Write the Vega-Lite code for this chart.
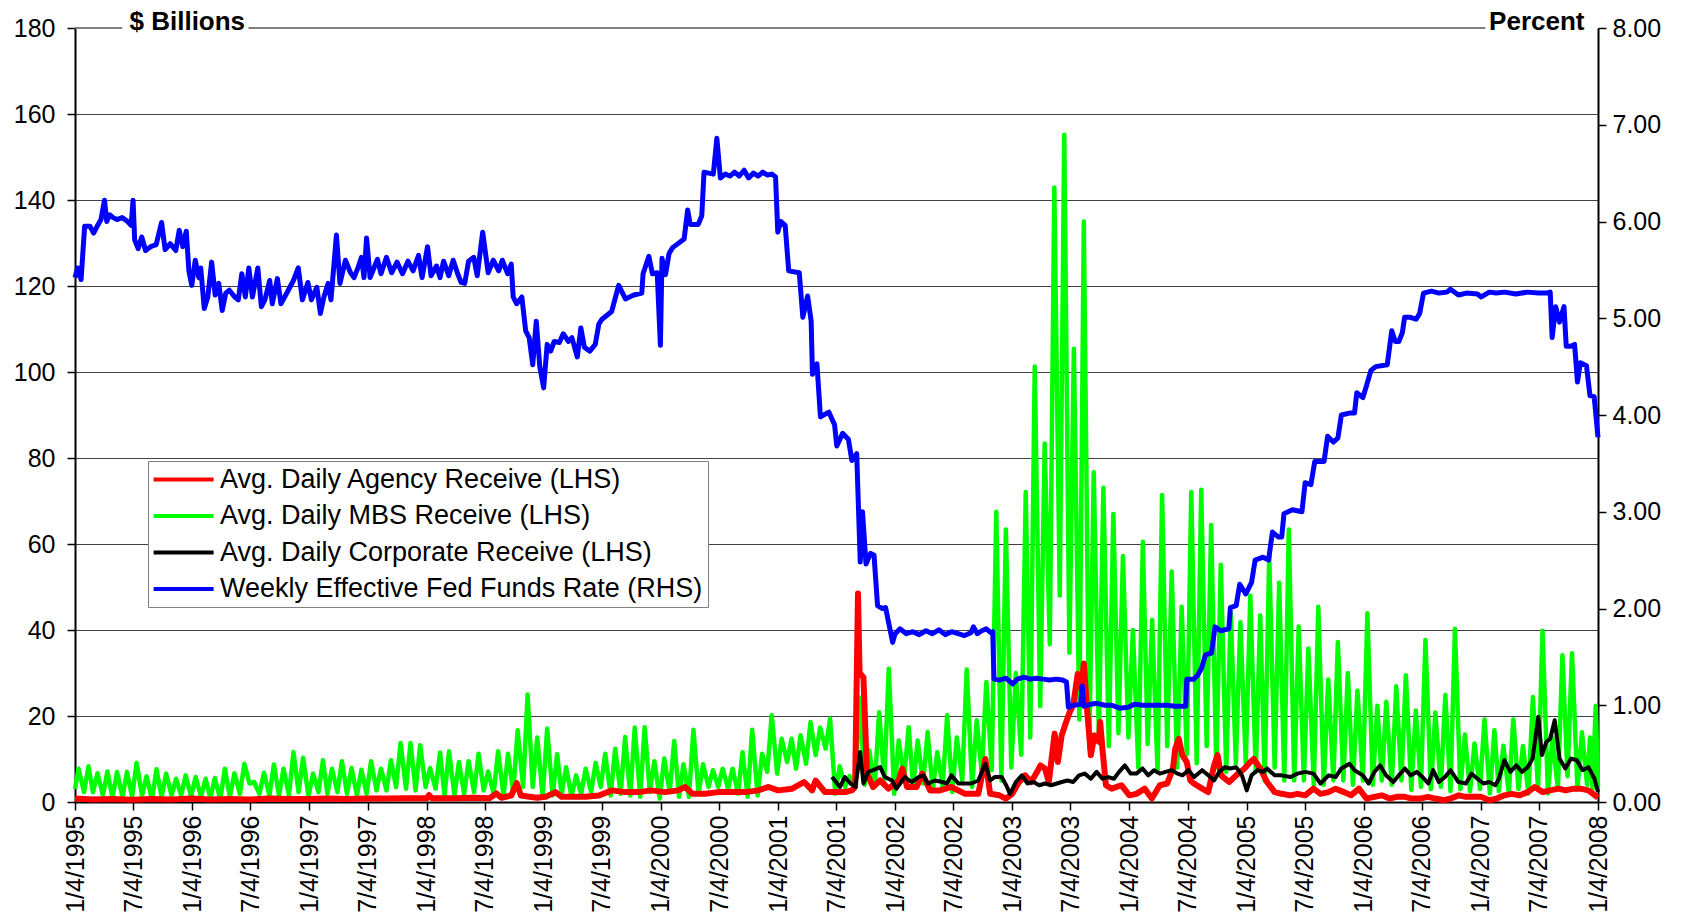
{
"$schema": "https://vega.github.io/schema/vega-lite/v6.json",
"width": 1523,
"height": 774,
"autosize": "none",
"padding": {"left": 75, "top": 28, "right": 83, "bottom": 112},
"config": {"view": {"stroke": null}, "font": "Liberation Sans", "background": "white"},
"datasets": {
"mbs": [
{"d":"1995-01-04","v":3.0},{"d":"1995-01-15","v":7.75},{"d":"1995-02-01","v":2.3},{"d":"1995-02-15","v":8.3},{"d":"1995-03-01","v":2.3},{"d":"1995-03-15","v":6.7},{"d":"1995-04-01","v":1.5},{"d":"1995-04-15","v":7.1},{"d":"1995-05-01","v":1.0},{"d":"1995-05-15","v":7.0},{"d":"1995-06-01","v":1.2},{"d":"1995-06-15","v":7.0},{"d":"1995-07-01","v":1.2},{"d":"1995-07-15","v":9.1},{"d":"1995-08-01","v":1.5},{"d":"1995-08-15","v":6.0},{"d":"1995-09-01","v":0.5},{"d":"1995-09-15","v":7.6},{"d":"1995-10-01","v":1.2},{"d":"1995-10-15","v":6.6},{"d":"1995-11-01","v":1.5},{"d":"1995-11-15","v":5.4},{"d":"1995-12-01","v":1.5},{"d":"1995-12-15","v":6.2},
{"d":"1996-01-01","v":1.3},{"d":"1996-01-15","v":5.8},{"d":"1996-02-01","v":1.2},{"d":"1996-02-15","v":5.4},{"d":"1996-03-01","v":0.8},{"d":"1996-03-15","v":5.6},{"d":"1996-04-01","v":0.5},{"d":"1996-04-15","v":7.75},{"d":"1996-05-01","v":1.2},{"d":"1996-05-15","v":6.7},{"d":"1996-06-01","v":1.9},{"d":"1996-06-15","v":8.9},{"d":"1996-07-01","v":4.3},{"d":"1996-07-15","v":4.65},{"d":"1996-08-01","v":1.9},{"d":"1996-08-15","v":6.8},{"d":"1996-09-01","v":1.5},{"d":"1996-09-15","v":8.7},{"d":"1996-10-01","v":1.5},{"d":"1996-10-15","v":7.75},{"d":"1996-11-01","v":1.5},{"d":"1996-11-15","v":11.6},{"d":"1996-12-01","v":2.3},{"d":"1996-12-15","v":10.3},
{"d":"1997-01-01","v":1.3},{"d":"1997-01-15","v":6.6},{"d":"1997-02-01","v":2.3},{"d":"1997-02-15","v":9.7},{"d":"1997-03-01","v":1.9},{"d":"1997-03-15","v":7.75},{"d":"1997-04-01","v":2.3},{"d":"1997-04-15","v":9.5},{"d":"1997-05-01","v":1.9},{"d":"1997-05-15","v":7.9},{"d":"1997-06-01","v":1.5},{"d":"1997-06-15","v":7.5},{"d":"1997-07-01","v":1.9},{"d":"1997-07-15","v":9.5},{"d":"1997-08-01","v":2.7},{"d":"1997-08-15","v":7.75},{"d":"1997-09-01","v":2.7},{"d":"1997-09-15","v":9.7},{"d":"1997-10-01","v":3.5},{"d":"1997-10-15","v":13.7},{"d":"1997-11-01","v":3.1},{"d":"1997-11-15","v":13.7},{"d":"1997-12-01","v":2.7},{"d":"1997-12-15","v":13.2},
{"d":"1998-01-01","v":3.5},{"d":"1998-01-15","v":7.9},{"d":"1998-02-01","v":3.1},{"d":"1998-02-15","v":11.5},{"d":"1998-03-01","v":1.5},{"d":"1998-03-15","v":11.8},{"d":"1998-04-01","v":1.5},{"d":"1998-04-15","v":9.3},{"d":"1998-05-01","v":1.9},{"d":"1998-05-15","v":9.5},{"d":"1998-06-01","v":2.3},{"d":"1998-06-15","v":11.2},{"d":"1998-07-01","v":2.7},{"d":"1998-07-15","v":7.1},{"d":"1998-08-01","v":1.9},{"d":"1998-08-15","v":11.8},{"d":"1998-09-01","v":1.5},{"d":"1998-09-15","v":11.2},{"d":"1998-10-01","v":2.3},{"d":"1998-10-15","v":16.7},{"d":"1998-11-01","v":3.5},{"d":"1998-11-15","v":25.0},{"d":"1998-12-01","v":3.5},{"d":"1998-12-15","v":15.0},
{"d":"1999-01-01","v":1.2},{"d":"1999-01-15","v":17.1},{"d":"1999-02-01","v":1.5},{"d":"1999-02-15","v":11.1},{"d":"1999-03-01","v":1.9},{"d":"1999-03-15","v":8.1},{"d":"1999-04-01","v":1.2},{"d":"1999-04-15","v":6.2},{"d":"1999-05-01","v":1.9},{"d":"1999-05-15","v":7.75},{"d":"1999-06-01","v":2.3},{"d":"1999-06-15","v":9.1},{"d":"1999-07-01","v":3.5},{"d":"1999-07-15","v":11.2},{"d":"1999-08-01","v":1.5},{"d":"1999-08-15","v":12.4},{"d":"1999-09-01","v":1.9},{"d":"1999-09-15","v":15.1},{"d":"1999-10-01","v":1.5},{"d":"1999-10-15","v":17.3},{"d":"1999-11-01","v":1.2},{"d":"1999-11-15","v":17.4},{"d":"1999-12-01","v":2.3},{"d":"1999-12-15","v":9.5},
{"d":"2000-01-01","v":0.8},{"d":"2000-01-15","v":10.1},{"d":"2000-02-01","v":2.3},{"d":"2000-02-15","v":14.2},{"d":"2000-03-01","v":1.2},{"d":"2000-03-15","v":8.8},{"d":"2000-04-01","v":1.2},{"d":"2000-04-15","v":16.8},{"d":"2000-05-01","v":1.9},{"d":"2000-05-15","v":8.8},{"d":"2000-06-01","v":3.5},{"d":"2000-06-15","v":7.4},{"d":"2000-07-01","v":3.5},{"d":"2000-07-15","v":7.75},{"d":"2000-08-01","v":3.1},{"d":"2000-08-15","v":7.75},{"d":"2000-09-01","v":1.9},{"d":"2000-09-15","v":11.6},{"d":"2000-10-01","v":1.2},{"d":"2000-10-15","v":16.8},{"d":"2000-11-01","v":1.5},{"d":"2000-11-15","v":11.2},{"d":"2000-12-01","v":7.0},{"d":"2000-12-15","v":20.2},
{"d":"2001-01-01","v":6.6},{"d":"2001-01-15","v":14.7},{"d":"2001-02-01","v":9.3},{"d":"2001-02-15","v":14.7},{"d":"2001-03-01","v":7.75},{"d":"2001-03-15","v":15.5},{"d":"2001-04-01","v":8.9},{"d":"2001-04-15","v":18.6},{"d":"2001-05-01","v":10.9},{"d":"2001-05-15","v":17.3},{"d":"2001-06-01","v":12.4},{"d":"2001-06-15","v":19.4},{"d":"2001-07-01","v":1.9},{"d":"2001-07-15","v":8.3},{"d":"2001-08-01","v":3.5},{"d":"2001-08-15","v":6.0},{"d":"2001-09-01","v":3.5},{"d":"2001-09-15","v":24.3},{"d":"2001-10-01","v":4.0},{"d":"2001-10-15","v":12.0},{"d":"2001-11-01","v":3.5},{"d":"2001-11-15","v":20.9},{"d":"2001-12-01","v":5.0},{"d":"2001-12-15","v":31.0},
{"d":"2002-01-01","v":1.9},{"d":"2002-01-15","v":14.3},{"d":"2002-02-01","v":5.8},{"d":"2002-02-15","v":17.4},{"d":"2002-03-01","v":3.5},{"d":"2002-03-15","v":14.3},{"d":"2002-04-01","v":4.3},{"d":"2002-04-15","v":16.3},{"d":"2002-05-01","v":2.7},{"d":"2002-05-15","v":11.6},{"d":"2002-06-01","v":3.5},{"d":"2002-06-15","v":20.2},{"d":"2002-07-01","v":2.3},{"d":"2002-07-15","v":15.0},{"d":"2002-08-01","v":5.0},{"d":"2002-08-15","v":30.8},{"d":"2002-09-01","v":3.5},{"d":"2002-09-15","v":19.0},{"d":"2002-10-01","v":6.6},{"d":"2002-10-15","v":27.9},{"d":"2002-11-01","v":7.4},{"d":"2002-11-15","v":67.5},{"d":"2002-12-01","v":5.0},{"d":"2002-12-15","v":63.4},
{"d":"2003-01-01","v":8.0},{"d":"2003-01-15","v":30.0},{"d":"2003-02-01","v":11.0},{"d":"2003-02-15","v":72.1},{"d":"2003-03-01","v":15.0},{"d":"2003-03-15","v":101.3},{"d":"2003-04-01","v":22.3},{"d":"2003-04-15","v":83.4},{"d":"2003-05-01","v":36.7},{"d":"2003-05-15","v":142.9},{"d":"2003-06-01","v":48.0},{"d":"2003-06-15","v":155.2},{"d":"2003-07-01","v":34.7},{"d":"2003-07-15","v":105.4},{"d":"2003-08-01","v":19.2},{"d":"2003-08-15","v":135.0},{"d":"2003-09-01","v":12.4},{"d":"2003-09-15","v":76.7},{"d":"2003-10-01","v":15.0},{"d":"2003-10-15","v":73.1},{"d":"2003-11-01","v":13.0},{"d":"2003-11-15","v":67.0},{"d":"2003-12-01","v":16.0},{"d":"2003-12-15","v":57.2},
{"d":"2004-01-01","v":15.0},{"d":"2004-01-15","v":40.0},{"d":"2004-02-01","v":8.0},{"d":"2004-02-15","v":60.5},{"d":"2004-03-01","v":13.5},{"d":"2004-03-15","v":42.3},{"d":"2004-04-01","v":7.0},{"d":"2004-04-15","v":71.4},{"d":"2004-05-01","v":13.0},{"d":"2004-05-15","v":53.6},{"d":"2004-06-01","v":8.0},{"d":"2004-06-15","v":45.4},{"d":"2004-07-01","v":11.0},{"d":"2004-07-15","v":72.1},{"d":"2004-08-01","v":9.0},{"d":"2004-08-15","v":72.6},{"d":"2004-09-01","v":13.0},{"d":"2004-09-15","v":64.4},{"d":"2004-10-01","v":8.0},{"d":"2004-10-15","v":55.2},{"d":"2004-11-01","v":7.0},{"d":"2004-11-15","v":43.9},{"d":"2004-12-01","v":9.0},{"d":"2004-12-15","v":41.8},
{"d":"2005-01-01","v":9.0},{"d":"2005-01-15","v":48.0},{"d":"2005-02-01","v":7.0},{"d":"2005-02-15","v":43.4},{"d":"2005-03-01","v":4.9},{"d":"2005-03-15","v":57.2},{"d":"2005-04-01","v":8.0},{"d":"2005-04-15","v":51.0},{"d":"2005-05-01","v":5.0},{"d":"2005-05-15","v":63.4},{"d":"2005-06-01","v":5.0},{"d":"2005-06-15","v":40.8},{"d":"2005-07-01","v":5.0},{"d":"2005-07-15","v":35.7},{"d":"2005-08-01","v":4.0},{"d":"2005-08-15","v":45.4},{"d":"2005-09-01","v":4.0},{"d":"2005-09-15","v":28.5},{"d":"2005-10-01","v":5.0},{"d":"2005-10-15","v":37.2},{"d":"2005-11-01","v":5.0},{"d":"2005-11-15","v":30.0},{"d":"2005-12-01","v":4.0},{"d":"2005-12-15","v":25.9},
{"d":"2006-01-01","v":5.0},{"d":"2006-01-15","v":43.9},{"d":"2006-02-01","v":4.0},{"d":"2006-02-15","v":22.4},{"d":"2006-03-01","v":5.0},{"d":"2006-03-15","v":23.3},{"d":"2006-04-01","v":4.0},{"d":"2006-04-15","v":26.9},{"d":"2006-05-01","v":5.0},{"d":"2006-05-15","v":29.5},{"d":"2006-06-01","v":2.8},{"d":"2006-06-15","v":21.3},{"d":"2006-07-01","v":3.5},{"d":"2006-07-15","v":37.7},{"d":"2006-08-01","v":3.0},{"d":"2006-08-15","v":20.8},{"d":"2006-09-01","v":3.5},{"d":"2006-09-15","v":24.9},{"d":"2006-10-01","v":2.5},{"d":"2006-10-15","v":40.3},{"d":"2006-11-01","v":3.0},{"d":"2006-11-15","v":15.7},{"d":"2006-12-01","v":2.5},{"d":"2006-12-15","v":13.6},
{"d":"2007-01-01","v":3.0},{"d":"2007-01-15","v":19.2},{"d":"2007-02-01","v":2.0},{"d":"2007-02-15","v":16.7},{"d":"2007-03-01","v":2.5},{"d":"2007-03-15","v":13.1},{"d":"2007-04-01","v":2.0},{"d":"2007-04-15","v":19.2},{"d":"2007-05-01","v":3.0},{"d":"2007-05-15","v":13.0},{"d":"2007-06-01","v":2.0},{"d":"2007-06-15","v":24.4},{"d":"2007-07-01","v":3.0},{"d":"2007-07-15","v":39.8},{"d":"2007-08-01","v":2.0},{"d":"2007-08-15","v":15.0},{"d":"2007-09-01","v":3.0},{"d":"2007-09-15","v":34.1},{"d":"2007-10-01","v":6.0},{"d":"2007-10-15","v":34.6},{"d":"2007-11-01","v":3.0},{"d":"2007-11-15","v":16.2},{"d":"2007-12-01","v":4.0},{"d":"2007-12-10","v":15.0},{"d":"2007-12-18","v":3.0},{"d":"2007-12-28","v":22.4},{"d":"2008-01-04","v":3.0}
],
"agency": [
{"d":"1995-01-04","v":0.8},{"d":"1995-03-01","v":0.6},{"d":"1995-05-01","v":0.7},{"d":"1995-07-01","v":0.5},{"d":"1995-09-01","v":0.7},{"d":"1995-11-01","v":0.6},{"d":"1996-01-01","v":0.8},{"d":"1996-03-01","v":0.6},{"d":"1996-05-01","v":0.7},{"d":"1996-07-01","v":0.6},{"d":"1996-09-01","v":0.8},{"d":"1996-11-01","v":0.7},{"d":"1997-01-01","v":0.7},{"d":"1997-03-01","v":0.8},{"d":"1997-05-01","v":0.7},{"d":"1997-07-01","v":0.8},{"d":"1997-09-01","v":0.8},{"d":"1997-11-01","v":0.9},{"d":"1998-01-05","v":0.9},{"d":"1998-01-12","v":1.6},{"d":"1998-01-20","v":0.9},{"d":"1998-04-01","v":0.9},{"d":"1998-06-01","v":1.0},{"d":"1998-07-20","v":0.9},{"d":"1998-08-10","v":2.0},{"d":"1998-08-25","v":1.0},{"d":"1998-09-25","v":1.5},{"d":"1998-10-12","v":4.4},{"d":"1998-10-25","v":1.5},{"d":"1998-11-15","v":1.3},{"d":"1998-12-15","v":1.0},
{"d":"1999-01-10","v":1.2},{"d":"1999-02-10","v":2.3},{"d":"1999-03-01","v":1.2},{"d":"1999-05-15","v":1.2},{"d":"1999-06-25","v":1.5},{"d":"1999-08-05","v":2.7},{"d":"1999-09-15","v":2.3},{"d":"1999-10-27","v":2.3},{"d":"1999-12-05","v":2.7},{"d":"2000-01-18","v":2.3},{"d":"2000-02-28","v":2.7},{"d":"2000-03-20","v":3.5},{"d":"2000-04-12","v":1.9},{"d":"2000-05-22","v":1.9},{"d":"2000-07-01","v":2.3},{"d":"2000-08-14","v":2.3},{"d":"2000-09-24","v":2.3},{"d":"2000-11-03","v":2.7},{"d":"2000-12-05","v":3.5},{"d":"2001-01-04","v":2.7},{"d":"2001-02-17","v":3.1},{"d":"2001-03-26","v":4.65},{"d":"2001-04-20","v":2.7},{"d":"2001-05-01","v":5.0},{"d":"2001-05-30","v":2.3},{"d":"2001-07-01","v":2.3},{"d":"2001-07-31","v":2.3},{"d":"2001-08-22","v":2.7},{"d":"2001-09-01","v":3.5},{"d":"2001-09-10","v":48.5},{"d":"2001-09-15","v":30.0},{"d":"2001-09-27","v":29.0},{"d":"2001-10-08","v":6.6},{"d":"2001-10-27","v":3.5},{"d":"2001-11-18","v":5.0},{"d":"2001-12-14","v":3.1},
{"d":"2002-01-15","v":5.0},{"d":"2002-01-26","v":7.75},{"d":"2002-02-10","v":3.5},{"d":"2002-03-12","v":3.5},{"d":"2002-03-29","v":6.6},{"d":"2002-04-23","v":2.7},{"d":"2002-05-23","v":2.7},{"d":"2002-06-28","v":3.5},{"d":"2002-08-10","v":1.9},{"d":"2002-09-20","v":1.9},{"d":"2002-10-12","v":10.0},{"d":"2002-10-27","v":1.9},{"d":"2002-11-25","v":1.55},{"d":"2002-12-15","v":0.8},
{"d":"2003-01-04","v":1.9},{"d":"2003-01-22","v":4.3},{"d":"2003-02-13","v":6.2},{"d":"2003-03-04","v":4.65},{"d":"2003-03-22","v":7.0},{"d":"2003-04-02","v":8.5},{"d":"2003-04-16","v":7.75},{"d":"2003-04-28","v":4.65},{"d":"2003-05-16","v":15.9},{"d":"2003-05-26","v":9.3},{"d":"2003-06-07","v":15.5},{"d":"2003-06-21","v":18.6},{"d":"2003-07-02","v":20.9},{"d":"2003-07-13","v":22.5},{"d":"2003-07-27","v":29.8},{"d":"2003-08-08","v":26.4},{"d":"2003-08-15","v":32.2},{"d":"2003-08-25","v":21.7},{"d":"2003-09-06","v":10.9},{"d":"2003-09-17","v":15.5},{"d":"2003-10-01","v":14.0},{"d":"2003-10-05","v":18.6},{"d":"2003-10-12","v":12.4},{"d":"2003-10-23","v":3.9},{"d":"2003-11-10","v":3.1},{"d":"2003-12-10","v":3.9},
{"d":"2004-01-04","v":1.55},{"d":"2004-01-26","v":1.9},{"d":"2004-02-21","v":3.1},{"d":"2004-03-14","v":0.8},{"d":"2004-04-08","v":3.9},{"d":"2004-05-01","v":4.3},{"d":"2004-05-19","v":7.8},{"d":"2004-05-26","v":12.4},{"d":"2004-06-06","v":14.7},{"d":"2004-06-17","v":10.9},{"d":"2004-07-01","v":9.3},{"d":"2004-07-12","v":5.0},{"d":"2004-07-23","v":4.3},{"d":"2004-08-18","v":3.1},{"d":"2004-09-06","v":2.3},{"d":"2004-09-24","v":8.5},{"d":"2004-10-05","v":10.9},{"d":"2004-10-16","v":6.2},{"d":"2004-11-10","v":4.65},{"d":"2004-12-02","v":6.2},{"d":"2004-12-28","v":7.8},
{"d":"2005-01-15","v":9.3},{"d":"2005-01-26","v":10.0},{"d":"2005-02-15","v":7.8},{"d":"2005-03-08","v":4.65},{"d":"2005-04-01","v":2.3},{"d":"2005-04-23","v":1.9},{"d":"2005-05-20","v":1.55},{"d":"2005-06-11","v":1.9},{"d":"2005-07-05","v":1.55},{"d":"2005-07-31","v":3.1},{"d":"2005-08-22","v":1.9},{"d":"2005-09-16","v":2.3},{"d":"2005-10-08","v":3.1},{"d":"2005-11-03","v":2.3},{"d":"2005-11-25","v":1.55},{"d":"2005-12-20","v":3.1},
{"d":"2006-01-12","v":0.8},{"d":"2006-02-06","v":1.2},{"d":"2006-03-01","v":1.55},{"d":"2006-03-25","v":0.8},{"d":"2006-04-16","v":1.2},{"d":"2006-05-12","v":1.2},{"d":"2006-06-03","v":0.8},{"d":"2006-06-28","v":0.8},{"d":"2006-07-23","v":1.2},{"d":"2006-08-15","v":0.8},{"d":"2006-09-10","v":0.4},{"d":"2006-10-01","v":0.8},{"d":"2006-10-27","v":1.55},{"d":"2006-11-18","v":1.2},{"d":"2006-12-13","v":1.2},
{"d":"2007-01-04","v":1.2},{"d":"2007-01-30","v":0.4},{"d":"2007-02-22","v":0.8},{"d":"2007-03-18","v":1.55},{"d":"2007-04-10","v":1.9},{"d":"2007-05-05","v":1.55},{"d":"2007-05-30","v":2.3},{"d":"2007-06-21","v":3.5},{"d":"2007-07-16","v":2.3},{"d":"2007-08-08","v":2.7},{"d":"2007-09-03","v":3.1},{"d":"2007-09-25","v":2.7},{"d":"2007-10-20","v":3.1},{"d":"2007-11-10","v":3.1},{"d":"2007-12-05","v":2.7},{"d":"2008-01-04","v":1.0}
],
"corp": [
{"d":"2001-06-21","v":5.8},{"d":"2001-07-16","v":3.5},{"d":"2001-07-31","v":5.8},{"d":"2001-08-18","v":4.3},{"d":"2001-09-02","v":3.5},{"d":"2001-09-17","v":11.6},{"d":"2001-09-27","v":4.3},{"d":"2001-10-12","v":7.0},{"d":"2001-10-27","v":7.4},{"d":"2001-11-18","v":8.1},{"d":"2001-12-03","v":5.8},{"d":"2001-12-25","v":5.0},
{"d":"2002-01-08","v":3.1},{"d":"2002-02-03","v":5.8},{"d":"2002-02-24","v":4.65},{"d":"2002-03-18","v":5.8},{"d":"2002-04-02","v":6.2},{"d":"2002-04-16","v":4.3},{"d":"2002-05-08","v":5.0},{"d":"2002-05-31","v":4.65},{"d":"2002-06-14","v":4.3},{"d":"2002-06-28","v":6.2},{"d":"2002-07-20","v":4.3},{"d":"2002-08-11","v":4.3},{"d":"2002-08-29","v":4.3},{"d":"2002-09-20","v":5.0},{"d":"2002-10-12","v":8.9},{"d":"2002-10-27","v":5.0},{"d":"2002-11-10","v":5.8},{"d":"2002-12-02","v":5.8},{"d":"2002-12-16","v":3.9},{"d":"2002-12-28","v":1.9},
{"d":"2003-01-15","v":4.65},{"d":"2003-02-03","v":6.2},{"d":"2003-02-20","v":4.3},{"d":"2003-03-11","v":4.65},{"d":"2003-03-29","v":3.9},{"d":"2003-04-16","v":4.3},{"d":"2003-05-05","v":3.9},{"d":"2003-05-23","v":4.3},{"d":"2003-06-07","v":4.65},{"d":"2003-06-25","v":5.0},{"d":"2003-07-13","v":4.65},{"d":"2003-07-31","v":6.2},{"d":"2003-08-18","v":6.6},{"d":"2003-09-06","v":5.4},{"d":"2003-09-24","v":7.0},{"d":"2003-10-12","v":5.4},{"d":"2003-10-30","v":5.8},{"d":"2003-11-17","v":5.4},{"d":"2003-12-03","v":7.0},{"d":"2003-12-21","v":8.5},
{"d":"2004-01-08","v":6.6},{"d":"2004-01-26","v":6.6},{"d":"2004-02-14","v":7.8},{"d":"2004-03-03","v":6.2},{"d":"2004-03-21","v":7.4},{"d":"2004-04-08","v":6.6},{"d":"2004-04-26","v":7.0},{"d":"2004-05-15","v":7.4},{"d":"2004-06-02","v":6.6},{"d":"2004-06-18","v":6.2},{"d":"2004-07-06","v":7.4},{"d":"2004-07-24","v":5.8},{"d":"2004-08-18","v":7.4},{"d":"2004-09-06","v":6.2},{"d":"2004-09-24","v":5.0},{"d":"2004-10-10","v":7.0},{"d":"2004-10-28","v":8.1},{"d":"2004-11-14","v":7.8},{"d":"2004-12-02","v":8.1},{"d":"2004-12-20","v":6.2},
{"d":"2005-01-04","v":2.7},{"d":"2005-01-19","v":6.2},{"d":"2005-02-06","v":7.4},{"d":"2005-02-24","v":7.0},{"d":"2005-03-08","v":7.8},{"d":"2005-04-01","v":6.2},{"d":"2005-04-23","v":6.2},{"d":"2005-05-20","v":5.8},{"d":"2005-06-11","v":6.6},{"d":"2005-07-05","v":7.0},{"d":"2005-07-31","v":6.6},{"d":"2005-08-22","v":4.3},{"d":"2005-09-16","v":6.2},{"d":"2005-10-08","v":5.8},{"d":"2005-10-26","v":7.8},{"d":"2005-11-20","v":8.9},{"d":"2005-12-06","v":7.4},
{"d":"2006-01-01","v":6.2},{"d":"2006-01-19","v":4.3},{"d":"2006-02-06","v":7.0},{"d":"2006-02-24","v":8.5},{"d":"2006-03-14","v":6.2},{"d":"2006-04-06","v":4.65},{"d":"2006-04-23","v":6.2},{"d":"2006-05-12","v":7.8},{"d":"2006-05-30","v":6.2},{"d":"2006-06-18","v":7.0},{"d":"2006-07-06","v":5.8},{"d":"2006-07-24","v":4.3},{"d":"2006-08-08","v":7.4},{"d":"2006-08-26","v":4.65},{"d":"2006-09-14","v":5.8},{"d":"2006-10-01","v":7.4},{"d":"2006-10-26","v":4.65},{"d":"2006-11-18","v":4.3},{"d":"2006-12-06","v":6.6},{"d":"2006-12-24","v":5.4},
{"d":"2007-01-12","v":4.3},{"d":"2007-01-30","v":4.65},{"d":"2007-02-18","v":3.9},{"d":"2007-03-01","v":5.4},{"d":"2007-03-18","v":9.7},{"d":"2007-04-06","v":7.0},{"d":"2007-04-24","v":8.5},{"d":"2007-05-12","v":7.0},{"d":"2007-05-30","v":8.1},{"d":"2007-06-14","v":10.1},{"d":"2007-07-02","v":19.8},{"d":"2007-07-13","v":10.9},{"d":"2007-07-27","v":14.0},{"d":"2007-08-08","v":14.7},{"d":"2007-08-22","v":19.0},{"d":"2007-09-06","v":10.1},{"d":"2007-09-24","v":7.8},{"d":"2007-10-12","v":10.1},{"d":"2007-10-30","v":9.7},{"d":"2007-11-17","v":7.4},{"d":"2007-12-05","v":8.1},{"d":"2007-12-24","v":5.4},{"d":"2008-01-04","v":2.3}
],
"ff": [
{"d":"1995-01-04","v":5.42},{"d":"1995-01-12","v":5.52},{"d":"1995-01-23","v":5.40},{"d":"1995-02-03","v":5.95},{"d":"1995-02-20","v":5.95},{"d":"1995-03-03","v":5.88},{"d":"1995-03-14","v":5.95},{"d":"1995-03-26","v":6.02},{"d":"1995-04-06","v":6.22},{"d":"1995-04-13","v":6.00},{"d":"1995-04-22","v":6.07},{"d":"1995-05-03","v":6.04},{"d":"1995-05-15","v":6.02},{"d":"1995-05-31","v":6.04},{"d":"1995-06-17","v":6.00},{"d":"1995-06-28","v":5.96},{"d":"1995-07-04","v":6.22},{"d":"1995-07-09","v":5.81},{"d":"1995-07-20","v":5.72},{"d":"1995-07-31","v":5.84},{"d":"1995-08-12","v":5.70},{"d":"1995-08-28","v":5.74},{"d":"1995-09-14","v":5.76},{"d":"1995-10-01","v":5.99},{"d":"1995-10-12","v":5.71},{"d":"1995-10-28","v":5.77},{"d":"1995-11-14","v":5.70},{"d":"1995-11-25","v":5.91},{"d":"1995-12-06","v":5.74},{"d":"1995-12-17","v":5.90},{"d":"1995-12-25","v":5.49},
{"d":"1996-01-03","v":5.34},{"d":"1996-01-14","v":5.60},{"d":"1996-01-25","v":5.42},{"d":"1996-01-31","v":5.52},{"d":"1996-02-11","v":5.10},{"d":"1996-02-22","v":5.22},{"d":"1996-03-05","v":5.58},{"d":"1996-03-16","v":5.24},{"d":"1996-03-27","v":5.36},{"d":"1996-04-07","v":5.08},{"d":"1996-04-18","v":5.26},{"d":"1996-04-29","v":5.29},{"d":"1996-05-16","v":5.22},{"d":"1996-05-27","v":5.19},{"d":"1996-06-07","v":5.46},{"d":"1996-06-18","v":5.22},{"d":"1996-06-29","v":5.52},{"d":"1996-07-10","v":5.22},{"d":"1996-07-27","v":5.52},{"d":"1996-08-07","v":5.12},{"d":"1996-08-18","v":5.19},{"d":"1996-09-02","v":5.39},{"d":"1996-09-10","v":5.15},{"d":"1996-09-26","v":5.41},{"d":"1996-10-07","v":5.15},{"d":"1996-10-30","v":5.29},{"d":"1996-11-15","v":5.39},{"d":"1996-11-30","v":5.52},{"d":"1996-12-13","v":5.19},{"d":"1996-12-30","v":5.37},
{"d":"1997-01-10","v":5.19},{"d":"1997-01-27","v":5.32},{"d":"1997-02-07","v":5.05},{"d":"1997-02-18","v":5.22},{"d":"1997-03-03","v":5.36},{"d":"1997-03-12","v":5.19},{"d":"1997-03-29","v":5.86},{"d":"1997-04-09","v":5.36},{"d":"1997-04-26","v":5.60},{"d":"1997-05-12","v":5.47},{"d":"1997-05-23","v":5.42},{"d":"1997-06-04","v":5.52},{"d":"1997-06-15","v":5.63},{"d":"1997-06-23","v":5.42},{"d":"1997-07-01","v":5.83},{"d":"1997-07-12","v":5.42},{"d":"1997-08-04","v":5.61},{"d":"1997-08-15","v":5.46},{"d":"1997-09-01","v":5.63},{"d":"1997-09-17","v":5.47},{"d":"1997-10-04","v":5.58},{"d":"1997-10-21","v":5.46},{"d":"1997-11-07","v":5.59},{"d":"1997-11-23","v":5.49},{"d":"1997-12-10","v":5.65},{"d":"1997-12-21","v":5.42},
{"d":"1998-01-07","v":5.74},{"d":"1998-01-18","v":5.44},{"d":"1998-02-04","v":5.54},{"d":"1998-02-15","v":5.42},{"d":"1998-02-26","v":5.59},{"d":"1998-03-14","v":5.44},{"d":"1998-03-28","v":5.60},{"d":"1998-04-11","v":5.46},{"d":"1998-04-22","v":5.37},{"d":"1998-05-03","v":5.36},{"d":"1998-05-15","v":5.59},{"d":"1998-05-31","v":5.63},{"d":"1998-06-11","v":5.44},{"d":"1998-06-28","v":5.89},{"d":"1998-07-15","v":5.47},{"d":"1998-07-31","v":5.60},{"d":"1998-08-17","v":5.49},{"d":"1998-08-28","v":5.60},{"d":"1998-09-14","v":5.46},{"d":"1998-09-25","v":5.56},{"d":"1998-10-01","v":5.22},{"d":"1998-10-12","v":5.15},{"d":"1998-10-28","v":5.22},{"d":"1998-11-09","v":4.87},{"d":"1998-11-20","v":4.80},{"d":"1998-12-01","v":4.52},{"d":"1998-12-12","v":4.97},{"d":"1998-12-23","v":4.50},
{"d":"1999-01-04","v":4.28},{"d":"1999-01-15","v":4.73},{"d":"1999-01-26","v":4.66},{"d":"1999-02-06","v":4.76},{"d":"1999-02-22","v":4.75},{"d":"1999-03-06","v":4.84},{"d":"1999-03-22","v":4.76},{"d":"1999-04-02","v":4.80},{"d":"1999-04-19","v":4.60},{"d":"1999-04-30","v":4.90},{"d":"1999-05-11","v":4.70},{"d":"1999-05-28","v":4.66},{"d":"1999-06-14","v":4.73},{"d":"1999-06-25","v":4.94},{"d":"1999-07-05","v":4.99},{"d":"1999-08-04","v":5.07},{"d":"1999-08-26","v":5.34},{"d":"1999-09-16","v":5.20},{"d":"1999-10-12","v":5.24},{"d":"1999-11-06","v":5.26},{"d":"1999-11-10","v":5.46},{"d":"1999-11-28","v":5.64},{"d":"1999-12-09","v":5.46},{"d":"1999-12-24","v":5.47},
{"d":"2000-01-03","v":4.72},{"d":"2000-01-08","v":5.62},{"d":"2000-01-19","v":5.45},{"d":"2000-01-30","v":5.67},{"d":"2000-02-10","v":5.73},{"d":"2000-03-17","v":5.82},{"d":"2000-03-28","v":6.12},{"d":"2000-04-05","v":5.97},{"d":"2000-04-30","v":5.97},{"d":"2000-05-11","v":6.06},{"d":"2000-05-18","v":6.51},{"d":"2000-06-16","v":6.49},{"d":"2000-06-27","v":6.86},{"d":"2000-07-08","v":6.45},{"d":"2000-07-23","v":6.49},{"d":"2000-08-07","v":6.47},{"d":"2000-08-21","v":6.51},{"d":"2000-09-05","v":6.47},{"d":"2000-09-20","v":6.53},{"d":"2000-10-04","v":6.45},{"d":"2000-10-19","v":6.50},{"d":"2000-11-03","v":6.47},{"d":"2000-11-17","v":6.51},{"d":"2000-12-02","v":6.48},{"d":"2000-12-16","v":6.49},{"d":"2000-12-27","v":6.46},
{"d":"2001-01-03","v":5.89},{"d":"2001-01-12","v":6.00},{"d":"2001-01-26","v":5.96},{"d":"2001-02-06","v":5.49},{"d":"2001-03-11","v":5.47},{"d":"2001-03-22","v":5.01},{"d":"2001-04-06","v":5.23},{"d":"2001-04-17","v":4.97},{"d":"2001-04-21","v":4.42},{"d":"2001-05-05","v":4.53},{"d":"2001-05-16","v":3.98},{"d":"2001-06-11","v":4.03},{"d":"2001-06-29","v":3.90},{"d":"2001-07-06","v":3.68},{"d":"2001-07-24","v":3.81},{"d":"2001-08-11","v":3.75},{"d":"2001-08-22","v":3.53},{"d":"2001-09-06","v":3.60},{"d":"2001-09-17","v":2.48},{"d":"2001-09-24","v":3.00},{"d":"2001-10-05","v":2.46},{"d":"2001-10-19","v":2.57},{"d":"2001-10-30","v":2.55},{"d":"2001-11-10","v":2.03},{"d":"2001-11-25","v":2.00},{"d":"2001-12-05","v":2.01},{"d":"2001-12-16","v":1.83},{"d":"2001-12-27","v":1.65},
{"d":"2002-01-04","v":1.74},{"d":"2002-01-19","v":1.79},{"d":"2002-02-08","v":1.74},{"d":"2002-02-28","v":1.76},{"d":"2002-03-20","v":1.73},{"d":"2002-04-10","v":1.77},{"d":"2002-04-30","v":1.74},{"d":"2002-05-20","v":1.78},{"d":"2002-06-09","v":1.73},{"d":"2002-06-29","v":1.76},{"d":"2002-07-19","v":1.74},{"d":"2002-08-08","v":1.72},{"d":"2002-08-28","v":1.75},{"d":"2002-09-05","v":1.81},{"d":"2002-09-17","v":1.74},{"d":"2002-10-01","v":1.77},{"d":"2002-10-15","v":1.79},{"d":"2002-10-29","v":1.75},{"d":"2002-11-04","v":1.76},{"d":"2002-11-08","v":1.27},{"d":"2002-11-25","v":1.26},{"d":"2002-12-15","v":1.28},
{"d":"2003-01-05","v":1.22},{"d":"2003-01-20","v":1.27},{"d":"2003-02-10","v":1.29},{"d":"2003-03-01","v":1.27},{"d":"2003-03-20","v":1.28},{"d":"2003-04-10","v":1.27},{"d":"2003-04-30","v":1.26},{"d":"2003-05-20","v":1.27},{"d":"2003-06-10","v":1.26},{"d":"2003-06-22","v":1.24},{"d":"2003-06-28","v":0.98},{"d":"2003-07-15","v":1.00},{"d":"2003-08-05","v":1.01},{"d":"2003-08-10","v":1.20},{"d":"2003-08-15","v":0.99},{"d":"2003-09-05","v":1.01},{"d":"2003-09-25","v":1.02},{"d":"2003-10-20","v":1.00},{"d":"2003-11-10","v":1.00},{"d":"2003-12-05","v":0.97},{"d":"2003-12-31","v":0.98},
{"d":"2004-01-20","v":1.01},{"d":"2004-02-15","v":1.00},{"d":"2004-03-10","v":1.00},{"d":"2004-04-05","v":1.00},{"d":"2004-05-01","v":1.00},{"d":"2004-05-25","v":0.99},{"d":"2004-06-28","v":0.99},{"d":"2004-07-01","v":1.27},{"d":"2004-07-23","v":1.27},{"d":"2004-08-04","v":1.31},{"d":"2004-08-17","v":1.39},{"d":"2004-08-28","v":1.52},{"d":"2004-09-16","v":1.54},{"d":"2004-09-27","v":1.81},{"d":"2004-10-15","v":1.77},{"d":"2004-11-09","v":1.79},{"d":"2004-11-14","v":2.01},{"d":"2004-12-02","v":2.03},{"d":"2004-12-13","v":2.25},
{"d":"2005-01-01","v":2.15},{"d":"2005-01-19","v":2.27},{"d":"2005-01-30","v":2.50},{"d":"2005-02-24","v":2.53},{"d":"2005-03-13","v":2.50},{"d":"2005-03-25","v":2.79},{"d":"2005-04-12","v":2.74},{"d":"2005-04-23","v":2.74},{"d":"2005-04-30","v":2.98},{"d":"2005-05-26","v":3.02},{"d":"2005-06-25","v":3.00},{"d":"2005-07-05","v":3.30},{"d":"2005-07-23","v":3.28},{"d":"2005-08-04","v":3.52},{"d":"2005-09-02","v":3.52},{"d":"2005-09-13","v":3.78},{"d":"2005-10-01","v":3.72},{"d":"2005-10-15","v":3.76},{"d":"2005-10-26","v":4.00},{"d":"2005-11-20","v":4.02},{"d":"2005-12-06","v":4.02},{"d":"2005-12-13","v":4.23},
{"d":"2006-01-01","v":4.18},{"d":"2006-01-12","v":4.30},{"d":"2006-01-26","v":4.46},{"d":"2006-02-10","v":4.50},{"d":"2006-03-18","v":4.52},{"d":"2006-04-01","v":4.87},{"d":"2006-04-12","v":4.76},{"d":"2006-04-23","v":4.76},{"d":"2006-05-04","v":4.85},{"d":"2006-05-11","v":5.01},{"d":"2006-05-29","v":5.01},{"d":"2006-06-16","v":4.99},{"d":"2006-06-27","v":5.05},{"d":"2006-07-09","v":5.26},{"d":"2006-08-03","v":5.28},{"d":"2006-08-26","v":5.26},{"d":"2006-09-20","v":5.27},{"d":"2006-10-01","v":5.30},{"d":"2006-10-26","v":5.24},{"d":"2006-11-20","v":5.26},{"d":"2006-12-24","v":5.25},
{"d":"2007-01-05","v":5.22},{"d":"2007-01-30","v":5.27},{"d":"2007-02-21","v":5.26},{"d":"2007-03-20","v":5.27},{"d":"2007-04-22","v":5.25},{"d":"2007-05-29","v":5.27},{"d":"2007-07-02","v":5.26},{"d":"2007-07-27","v":5.26},{"d":"2007-08-08","v":5.27},{"d":"2007-08-14","v":4.80},{"d":"2007-08-25","v":5.12},{"d":"2007-09-06","v":4.96},{"d":"2007-09-20","v":5.12},{"d":"2007-09-27","v":4.71},{"d":"2007-10-11","v":4.71},{"d":"2007-10-23","v":4.73},{"d":"2007-11-01","v":4.34},{"d":"2007-11-10","v":4.54},{"d":"2007-11-29","v":4.51},{"d":"2007-12-10","v":4.20},{"d":"2007-12-23","v":4.19},{"d":"2008-01-04","v":3.77}
]
},
"layer": [
{
"layer": [
{
"data": {"values": [{}]},
"mark": {"type": "rule", "color": "#808080", "strokeWidth": 2},
"encoding": {
"x": {"datum": {"year": 1995, "month": 1, "date": 4, "utc": true}, "type": "temporal"},
"x2": {"datum": {"year": 1995, "month": 5, "date": 31, "utc": true}},
"y": {"datum": 180, "type": "quantitative"}
}
},
{
"data": {"values": [{}]},
"mark": {"type": "rule", "color": "#808080", "strokeWidth": 2},
"encoding": {
"x": {"datum": {"year": 1996, "month": 6, "date": 28, "utc": true}, "type": "temporal"},
"x2": {"datum": {"year": 2007, "month": 1, "date": 18, "utc": true}},
"y": {"datum": 180, "type": "quantitative"}
}
},
{
"data": {"name": "mbs"},
"mark": {"type": "line", "strokeWidth": 4.5, "strokeJoin": "round"},
"encoding": {
"x": {"field": "d", "type": "temporal",
"scale": {"type": "utc", "domain": [{"year": 1995, "month": 1, "date": 4, "utc": true}, {"year": 2008, "month": 1, "date": 4, "utc": true}], "nice": false},
"axis": {"title": null, "grid": false, "format": "%-m/%-d/%Y", "labelAngle": -90, "labelFontSize": 25, "labelColor": "#000000", "labelPadding": 5, "tickSize": 8, "tickColor": "#000000", "tickWidth": 1.5, "domainColor": "#000000", "domainWidth": 2, "labelOverlap": false, "labelFlush": false, "labelBound": false,
"values": [
{"year":1995,"month":1,"date":4,"utc":true},{"year":1995,"month":7,"date":4,"utc":true},
{"year":1996,"month":1,"date":4,"utc":true},{"year":1996,"month":7,"date":4,"utc":true},
{"year":1997,"month":1,"date":4,"utc":true},{"year":1997,"month":7,"date":4,"utc":true},
{"year":1998,"month":1,"date":4,"utc":true},{"year":1998,"month":7,"date":4,"utc":true},
{"year":1999,"month":1,"date":4,"utc":true},{"year":1999,"month":7,"date":4,"utc":true},
{"year":2000,"month":1,"date":4,"utc":true},{"year":2000,"month":7,"date":4,"utc":true},
{"year":2001,"month":1,"date":4,"utc":true},{"year":2001,"month":7,"date":4,"utc":true},
{"year":2002,"month":1,"date":4,"utc":true},{"year":2002,"month":7,"date":4,"utc":true},
{"year":2003,"month":1,"date":4,"utc":true},{"year":2003,"month":7,"date":4,"utc":true},
{"year":2004,"month":1,"date":4,"utc":true},{"year":2004,"month":7,"date":4,"utc":true},
{"year":2005,"month":1,"date":4,"utc":true},{"year":2005,"month":7,"date":4,"utc":true},
{"year":2006,"month":1,"date":4,"utc":true},{"year":2006,"month":7,"date":4,"utc":true},
{"year":2007,"month":1,"date":4,"utc":true},{"year":2007,"month":7,"date":4,"utc":true},
{"year":2008,"month":1,"date":4,"utc":true}
]}
},
"y": {"field": "v", "type": "quantitative",
"scale": {"domain": [0, 180], "nice": false},
"axis": {"values": [0,20,40,60,80,100,120,140,160,180], "grid": true, "gridColor": "#404040", "gridWidth": 1,
"gridOpacity": {"condition": {"test": "datum.value >= 180", "value": 0}, "value": 1},
"labelFontSize": 25, "labelColor": "#000000", "labelPadding": 12, "tickSize": 8, "tickColor": "#000000", "tickWidth": 1.5, "domainColor": "#000000", "domainWidth": 2,
"title": "$ Billions", "titleAngle": 0, "titleX": 54, "titleY": 1, "titleAlign": "left", "titleBaseline": "alphabetic", "titleFontSize": 26, "titleFontWeight": "bold", "titleColor": "#000000", "titleFont": "Liberation Sans"}
},
"color": {"datum": "Avg. Daily MBS Receive (LHS)", "type": "nominal",
"scale": {"domain": ["Avg. Daily Agency Receive (LHS)", "Avg. Daily MBS Receive (LHS)", "Avg. Daily Corporate Receive (LHS)", "Weekly Effective Fed Funds Rate (RHS)"], "range": ["#ff0000", "#00ff00", "#000000", "#0000ff"]},
"legend": {"title": null, "orient": "none", "legendX": 73, "legendY": 433, "symbolType": "M-1.72,0H6.28", "symbolSize": 225, "symbolStrokeWidth": 4, "labelFontSize": 27, "labelFont": "Liberation Sans", "labelColor": "#000000", "labelLimit": 0, "labelOffset": 40, "rowPadding": 8.5, "padding": 5, "strokeColor": "#808080", "fillColor": "#ffffff", "cornerRadius": 0}
}
}
},
{
"data": {"name": "agency"},
"mark": {"type": "line", "strokeWidth": 6, "strokeJoin": "round"},
"encoding": {
"x": {"field": "d", "type": "temporal"},
"y": {"field": "v", "type": "quantitative"},
"color": {"datum": "Avg. Daily Agency Receive (LHS)", "type": "nominal"}
}
},
{
"data": {"name": "corp"},
"mark": {"type": "line", "strokeWidth": 4, "strokeJoin": "round"},
"encoding": {
"x": {"field": "d", "type": "temporal"},
"y": {"field": "v", "type": "quantitative"},
"color": {"datum": "Avg. Daily Corporate Receive (LHS)", "type": "nominal"}
}
}
]
},
{
"data": {"name": "ff"},
"mark": {"type": "line", "strokeWidth": 5, "strokeJoin": "round"},
"encoding": {
"x": {"field": "d", "type": "temporal"},
"y": {"field": "v", "type": "quantitative",
"scale": {"domain": [0, 8], "nice": false},
"axis": {"orient": "right", "values": [0,1,2,3,4,5,6,7,8], "format": ".2f", "grid": false,
"labelFontSize": 25, "labelColor": "#000000", "labelPadding": 6, "tickSize": 8, "tickColor": "#000000", "tickWidth": 1.5, "domainColor": "#000000", "domainWidth": 2,
"title": "Percent", "titleAngle": 0, "titleX": -14, "titleY": 1, "titleAlign": "right", "titleBaseline": "alphabetic", "titleFontSize": 26, "titleFontWeight": "bold", "titleColor": "#000000", "titleFont": "Liberation Sans"}
},
"color": {"datum": "Weekly Effective Fed Funds Rate (RHS)", "type": "nominal"}
}
}
],
"resolve": {"scale": {"y": "independent"}}
}
